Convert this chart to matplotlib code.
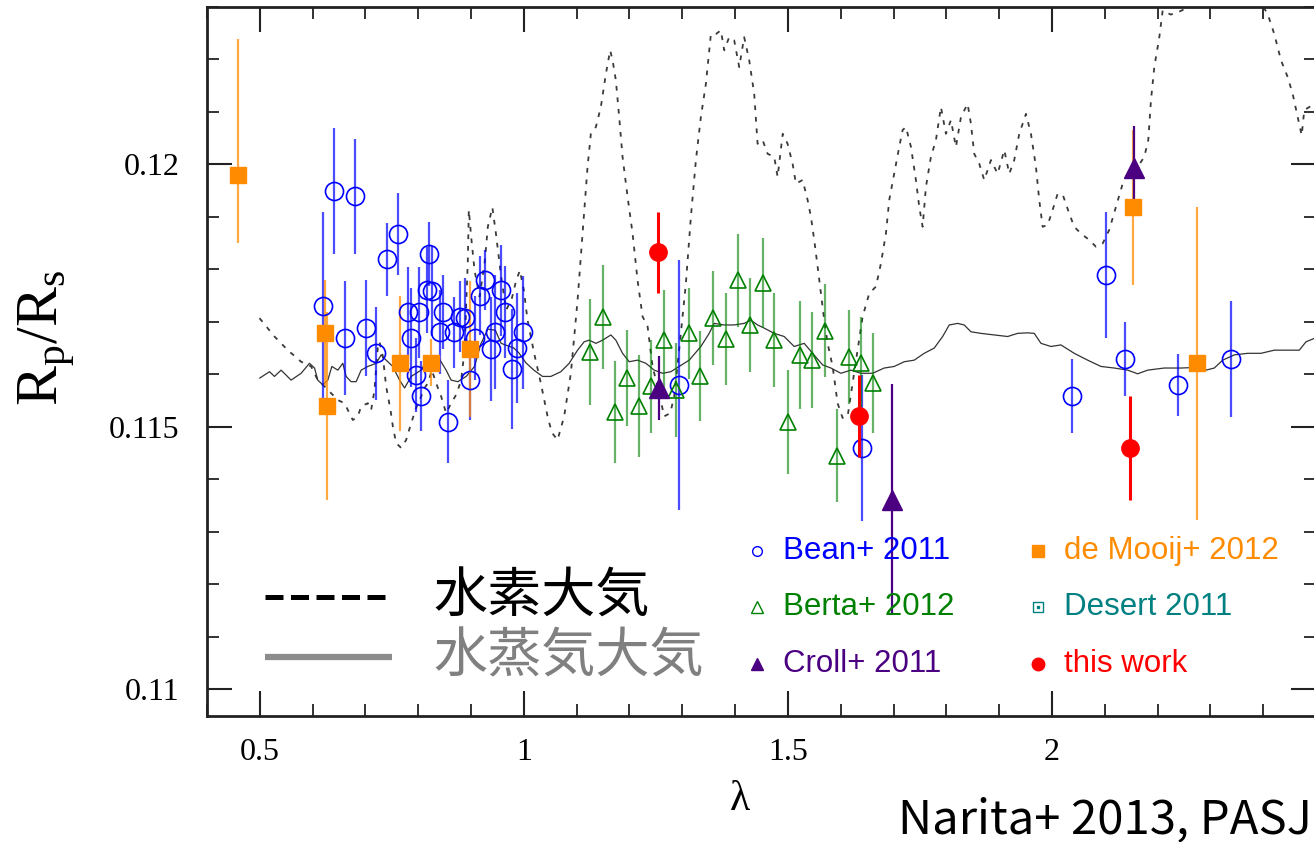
import matplotlib
matplotlib.use("Agg")
import matplotlib.pyplot as plt
from matplotlib.ticker import MultipleLocator, FuncFormatter

plt.rcParams['font.family'] = ['Liberation Serif', 'DejaVu Serif']
plt.rcParams['mathtext.fontset'] = 'custom'
plt.rcParams['mathtext.rm'] = 'Liberation Serif'
plt.rcParams['mathtext.it'] = 'Liberation Serif:italic'

# ── Model spectra ────────────────────────────────────────────────────────────
# hydrogen-dominated atmosphere (dotted)
h2_wl = [0.4994, 0.5278, 0.5530, 0.5782, 0.5972, 0.6098, 0.6225, 0.6350, 0.6477, 0.6604,
         0.6667, 0.6761, 0.6856, 0.6919, 0.7045, 0.7108, 0.7172, 0.7235, 0.7267, 0.7330,
         0.7392, 0.7475, 0.7519, 0.7581, 0.7676, 0.7771, 0.7866, 0.7960, 0.8055, 0.8119,
         0.8182, 0.8258, 0.8339, 0.8434, 0.8528, 0.8623, 0.8718, 0.8813, 0.8877, 0.8907,
         0.8939, 0.8958, 0.9002, 0.9066, 0.9161, 0.9256, 0.9318, 0.9403, 0.9470, 0.9570,
         0.9665, 0.9773, 0.9848, 0.9924, 1.0000, 1.0070, 1.0195, 1.0322, 1.0449, 1.0530,
         1.0638, 1.0763, 1.0890, 1.1017, 1.1112, 1.1206, 1.1269, 1.1364, 1.1458, 1.1553,
         1.1634, 1.1680, 1.1742, 1.1805, 1.1869, 1.1964, 1.2059, 1.2153, 1.2248, 1.2343,
         1.2437, 1.2563, 1.2657, 1.2771, 1.2847, 1.2973, 1.3068, 1.3163, 1.3258, 1.3352,
         1.3447, 1.3542, 1.3636, 1.3731, 1.3794, 1.3888, 1.3983, 1.4078, 1.4172, 1.4267,
         1.4362, 1.4426, 1.4521, 1.4615, 1.4741, 1.4805, 1.4902, 1.4994, 1.5089, 1.5152,
         1.5278, 1.5373, 1.5436, 1.5498, 1.5563, 1.5625, 1.5688, 1.5752, 1.5847, 1.5941,
         1.6036, 1.6131, 1.6225, 1.6320, 1.6415, 1.6540, 1.6667, 1.6761, 1.6856, 1.6919,
         1.7013, 1.7108, 1.7172, 1.7235, 1.7330, 1.7424, 1.7487, 1.7551, 1.7614, 1.7708,
         1.7803, 1.7898, 1.7992, 1.8087, 1.8182, 1.8277, 1.8403, 1.8466, 1.8528, 1.8623,
         1.8718, 1.8845, 1.8972, 1.9097, 1.9192, 1.9286, 1.9381, 1.9508, 1.9602, 1.9697,
         1.9759, 1.9824, 1.9918, 2.0013, 2.0108, 2.0208, 2.0328, 2.0422, 2.0549, 2.0706,
         2.0833, 2.0960, 2.1085, 2.1212, 2.1339, 2.1464, 2.1623, 2.1748, 2.1824, 2.1875,
         2.1938, 2.2033, 2.2097, 2.2150, 2.2250, 2.2400, 2.2500, 2.2800, 2.3300, 2.3800,
         2.4000, 2.4085, 2.4210, 2.4337, 2.4464, 2.4558, 2.4653, 2.4729, 2.4778, 2.4873, 2.4981]
h2_rr = [0.11707, 0.11672, 0.11646, 0.11624, 0.11615, 0.11589, 0.11577, 0.11564, 0.11551, 0.11545,
         0.11532, 0.11513, 0.11520, 0.11539, 0.11545, 0.11532, 0.11570, 0.11653, 0.11662, 0.11634,
         0.11577, 0.11532, 0.11501, 0.11469, 0.11460, 0.11475, 0.11507, 0.11536, 0.11558, 0.11574,
         0.11583, 0.11608, 0.11583, 0.11558, 0.11526, 0.11545, 0.11561, 0.11589, 0.11646, 0.11729,
         0.11817, 0.11913, 0.11862, 0.11798, 0.11748, 0.11811, 0.11881, 0.11918, 0.11869, 0.11786,
         0.11722, 0.11745, 0.11776, 0.11798, 0.11760, 0.11703, 0.11640, 0.11583, 0.11520, 0.11489,
         0.11475, 0.11520, 0.11602, 0.11741, 0.11868, 0.11995, 0.12058, 0.12071, 0.12109, 0.12172,
         0.12217, 0.12198, 0.12160, 0.12090, 0.12014, 0.11938, 0.11868, 0.11779, 0.11710, 0.11691,
         0.11615, 0.11564, 0.11520, 0.11526, 0.11558, 0.11678, 0.11773, 0.11900, 0.12008, 0.12090,
         0.12153, 0.12248, 0.12248, 0.12255, 0.12217, 0.12242, 0.12236, 0.12185, 0.12242, 0.12198,
         0.12134, 0.12039, 0.12046, 0.12020, 0.12014, 0.11976, 0.12058, 0.12039, 0.12001, 0.11963,
         0.11970, 0.11932, 0.11900, 0.11856, 0.11805, 0.11754, 0.11703, 0.11659, 0.11615, 0.11545,
         0.11517, 0.11520, 0.11583, 0.11646, 0.11710, 0.11754, 0.11767, 0.11811, 0.11868, 0.11932,
         0.11982, 0.12033, 0.12065, 0.12071, 0.12033, 0.11970, 0.11919, 0.11881, 0.11957, 0.12014,
         0.12046, 0.12109, 0.12058, 0.12084, 0.12033, 0.12090, 0.12115, 0.12077, 0.12020, 0.12001,
         0.11970, 0.12008, 0.11982, 0.12027, 0.11982, 0.12008, 0.12058, 0.12096, 0.12058, 0.11995,
         0.11932, 0.11881, 0.11884, 0.11913, 0.11944, 0.11941, 0.11906, 0.11881, 0.11868, 0.11856,
         0.11843, 0.11849, 0.11875, 0.11919, 0.11963, 0.11989, 0.11995, 0.12014, 0.12046, 0.12122,
         0.12185, 0.12242, 0.12293, 0.12290, 0.12285, 0.12290, 0.12295, 0.12330, 0.12340, 0.12320,
         0.12300, 0.12286, 0.12248, 0.12198, 0.12166, 0.12134, 0.12090, 0.12055, 0.12103, 0.12109, 0.12115]

# water-vapour atmosphere (solid)
h2o_wl = [0.5000, 0.5184, 0.5278, 0.5403, 0.5593, 0.5782, 0.5941, 0.6036, 0.6098, 0.6193,
          0.6288, 0.6364, 0.6477, 0.6572, 0.6634, 0.6729, 0.6824, 0.6919, 0.7045, 0.7203,
          0.7297, 0.7392, 0.7519, 0.7646, 0.7741, 0.7866, 0.8055, 0.8182, 0.8371, 0.8528,
          0.8623, 0.8750, 0.8907, 0.9066, 0.9186, 0.9318, 0.9459, 0.9570, 0.9811, 0.9905,
          1.0038, 1.0189, 1.0354, 1.0511, 1.0701, 1.0858, 1.1017, 1.1142, 1.1237, 1.1364,
          1.1491, 1.1648, 1.1742, 1.1869, 1.1994, 1.2153, 1.2311, 1.2468, 1.2627, 1.2784,
          1.2941, 1.3131, 1.3352, 1.3509, 1.3604, 1.3794, 1.3983, 1.4172, 1.4299, 1.4426,
          1.4551, 1.4741, 1.4930, 1.5119, 1.5309, 1.5468, 1.5657, 1.5814, 1.6004, 1.6193,
          1.6383, 1.6604, 1.6824, 1.7013, 1.7203, 1.7392, 1.7581, 1.7771, 1.7930, 1.8055,
          1.8214, 1.8339, 1.8466, 1.8655, 1.8907, 1.9161, 1.9350, 1.9540, 1.9665, 1.9792,
          1.9981, 2.0170, 2.0422, 2.0676, 2.0928, 2.1180, 2.1434, 2.1623, 2.1813, 2.2127,
          2.2443, 2.2695, 2.2917, 2.3074, 2.3233, 2.3453, 2.3706, 2.3958, 2.4210, 2.4464,
          2.4684, 2.4811, 2.4981]
h2o_rr = [0.11593, 0.11605, 0.11596, 0.11608, 0.11589, 0.11602, 0.11621, 0.11612, 0.11589, 0.11580,
          0.11589, 0.11615, 0.11608, 0.11621, 0.11596, 0.11586, 0.11586, 0.11608, 0.11615, 0.11621,
          0.11637, 0.11627, 0.11615, 0.11589, 0.11574, 0.11596, 0.11608, 0.11631, 0.11634, 0.11608,
          0.11589, 0.11586, 0.11596, 0.11615, 0.11658, 0.11686, 0.11684, 0.11659, 0.11650, 0.11641,
          0.11622, 0.11608, 0.11596, 0.11596, 0.11605, 0.11621, 0.11646, 0.11662, 0.11665, 0.11659,
          0.11665, 0.11675, 0.11665, 0.11640, 0.11624, 0.11627, 0.11621, 0.11608, 0.11602, 0.11605,
          0.11615, 0.11627, 0.11653, 0.11678, 0.11697, 0.11694, 0.11694, 0.11697, 0.11703, 0.11694,
          0.11688, 0.11678, 0.11672, 0.11653, 0.11659, 0.11640, 0.11618, 0.11612, 0.11602, 0.11608,
          0.11602, 0.11602, 0.11612, 0.11615, 0.11624, 0.11627, 0.11640, 0.11650, 0.11672, 0.11694,
          0.11697, 0.11694, 0.11681, 0.11678, 0.11675, 0.11672, 0.11678, 0.11679, 0.11678, 0.11659,
          0.11653, 0.11656, 0.11640, 0.11627, 0.11615, 0.11612, 0.11608, 0.11601, 0.11608, 0.11612,
          0.11612, 0.11613, 0.11608, 0.11612, 0.11627, 0.11637, 0.11640, 0.11640, 0.11646, 0.11646,
          0.11646, 0.11662, 0.11669]

# ── Observations ─────────────────────────────────────────────────────────────
bean_wl = [0.6206, 0.6396, 0.6604, 0.6799, 0.7002, 0.7203, 0.7405, 0.7608, 0.7803, 0.7854,
           0.7955, 0.8006, 0.8044, 0.8163, 0.8207, 0.8258, 0.8415, 0.8460, 0.8561, 0.8669,
           0.8794, 0.8877, 0.8972, 0.9066, 0.9172, 0.9256, 0.9369, 0.9456, 0.9559, 0.9634,
           0.9767, 0.9862, 0.9975,
           1.2930, 1.6402, 2.0373, 2.1023, 2.1383, 2.2381, 2.3390]
bean_rr = [0.11730, 0.11949, 0.11669, 0.11939, 0.11688, 0.11640, 0.11819, 0.11868, 0.11718, 0.11670,
           0.11599, 0.11718, 0.11559, 0.11760, 0.11829, 0.11759, 0.11680, 0.11719, 0.11510, 0.11680,
           0.11710, 0.11707, 0.11589, 0.11670, 0.11750, 0.11779, 0.11648, 0.11681, 0.11760, 0.11719,
           0.11610, 0.11650, 0.11680,
           0.11580, 0.11460, 0.11559, 0.11789, 0.11629, 0.11579, 0.11629]
bean_err = [0.00179, 0.00120, 0.00109, 0.00110, 0.00091, 0.00089, 0.00070, 0.00078, 0.00087, 0.00095,
            0.00070, 0.00086, 0.00067, 0.00082, 0.00061, 0.00086, 0.00080, 0.00070, 0.00079, 0.00068,
            0.00068, 0.00076, 0.00076, 0.00080, 0.00076, 0.00057, 0.00099, 0.00108, 0.00087, 0.00087,
            0.00114, 0.00105, 0.00108,
            0.00238, 0.00139, 0.00070, 0.00120, 0.00070, 0.00059, 0.00110]

berta_wl = [1.1256, 1.1491, 1.1723, 1.1951, 1.2178, 1.2405, 1.2646, 1.2879, 1.3119, 1.3339,
            1.3585, 1.3820, 1.4047, 1.4286, 1.4521, 1.4741, 1.5006, 1.5222, 1.5455, 1.5695,
            1.5928, 1.6150, 1.6383, 1.6616]
berta_rr = [0.11643, 0.11710, 0.11529, 0.11593, 0.11540, 0.11577, 0.11665, 0.11570, 0.11678, 0.11597,
            0.11707, 0.11667, 0.11779, 0.11694, 0.11774, 0.11665, 0.11510, 0.11637, 0.11627, 0.11683,
            0.11445, 0.11633, 0.11622, 0.11583]
berta_err = [0.00101, 0.00099, 0.00097, 0.00091, 0.00097, 0.00089, 0.00095, 0.00089, 0.00086, 0.00086,
             0.00089, 0.00087, 0.00088, 0.00089, 0.00086, 0.00089, 0.00099, 0.00103, 0.00091, 0.00089,
             0.00089, 0.00089, 0.00087, 0.00095]

croll_wl = [1.2551, 1.6970, 2.1547]
croll_rr = [0.11574, 0.11361, 0.11992]
croll_err = [0.00061, 0.00220, 0.00080]

mooij_wl = [0.4583, 0.6225, 0.6269, 0.7646, 0.8233, 0.8983, 2.1534, 2.2752]
mooij_rr = [0.11979, 0.11679, 0.11540, 0.11621, 0.11622, 0.11648, 0.11918, 0.11621]
mooij_err_lo = [0.00129, 0.00101, 0.00179, 0.00128, 0.00045, 0.00130, 0.00148, 0.00298]
mooij_err_hi = [0.00259, 0.00101, 0.00179, 0.00128, 0.00045, 0.00130, 0.00148, 0.00298]

this_wl = [1.2532, 1.6351, 2.1483]
this_rr = [0.11832, 0.11521, 0.11460]
this_err = [0.00077, 0.00078, 0.00099]

C_BEAN = '#0000ff'
C_BERTA = '#008000'
C_CROLL = '#4b0082'
C_MOOIJ = '#ff8c00'
C_DESERT = '#008080'
C_THIS = '#ff0000'

# ── Figure ───────────────────────────────────────────────────────────────────
W, H = 1314, 842
fig = plt.figure(figsize=(W / 100, H / 100), dpi=100)
ax_l, ax_r, ax_t, ax_b = 207, 1316, 6.7, 715.7
ax = fig.add_axes([ax_l / W, 1 - ax_b / H, (ax_r - ax_l) / W, (ax_b - ax_t) / H])

ax.plot(h2_wl, h2_rr, color='#3a3a3a', lw=1.3, ls=(0, (2.6, 3.8)), zorder=2)
ax.plot(h2o_wl, h2o_rr, color='#333333', lw=0.9, zorder=2)

eb = dict(ls='none', capsize=0, elinewidth=1.6, zorder=3)
ax.errorbar(bean_wl, bean_rr, yerr=bean_err, fmt='o', ms=13, mfc='none',
            mec=C_BEAN, mew=1.2, ecolor=(0, 0, 1, 0.7), **eb)
ax.errorbar(berta_wl, berta_rr, yerr=berta_err, fmt='^', ms=12, mfc='none',
            mec=C_BERTA, mew=1.2, ecolor=(0, 0.5, 0, 0.6), **eb)
ax.errorbar(mooij_wl, mooij_rr, yerr=[mooij_err_lo, mooij_err_hi], fmt='s', ms=11.5,
            mfc=C_MOOIJ, mec=C_MOOIJ, ecolor=(1, 0.55, 0, 0.75), **eb)
ax.errorbar(croll_wl, croll_rr, yerr=croll_err, fmt='^', ms=14, mfc=C_CROLL,
            mec=C_CROLL, ecolor=C_CROLL, **eb)
ax.errorbar(this_wl, this_rr, yerr=this_err, fmt='o', ms=12.5, mfc=C_THIS,
            mec=C_THIS, ecolor=C_THIS, elinewidth=2.2, ls='none', capsize=0, zorder=4)

ax.set_xlim(0.4, 2.5)
ax.set_ylim(0.1095, 0.123)
ax.xaxis.set_major_locator(MultipleLocator(0.5))
ax.xaxis.set_minor_locator(MultipleLocator(0.1))
ax.yaxis.set_major_locator(MultipleLocator(0.005))
ax.yaxis.set_minor_locator(MultipleLocator(0.001))
ax.xaxis.set_major_formatter(FuncFormatter(lambda v, p: '' if v > 2.45 else f'{round(v, 3):g}'))
ax.yaxis.set_major_formatter(FuncFormatter(lambda v, p: f'{round(v, 4):g}'))
ax.tick_params(which='both', direction='in', top=True, right=True, colors='#222222')
ax.tick_params(which='major', length=18, width=1.5, labelsize=23, labelcolor='black')
ax.tick_params(axis='x', which='major', pad=16)
ax.tick_params(axis='y', which='major', pad=20)
ax.tick_params(which='minor', length=8.5, width=1.3)
for side in ['left', 'bottom', 'top', 'right']:
    ax.spines[side].set_linewidth(2.0)
    ax.spines[side].set_color('#222222')

fig.text(47 / W, 1 - 338 / H, r'$\mathrm{R_p/R_s}$', rotation=90,
         ha='center', va='center', fontsize=43)
fig.text(740 / W, 1 - 800 / H, 'λ', ha='center', va='center', fontsize=30)
fig.text(1312 / W, 9 / H, 'Narita+ 2013, PASJ', ha='right', va='baseline',
         fontsize=34, family=['Noto Sans CJK JP', 'DejaVu Sans'])

# ── Model legend (left) ──────────────────────────────────────────────────────
def afx(px):
    return (px - ax_l) / (ax_r - ax_l)


def afy(py):
    return (ax_b - py) / (ax_b - ax_t)


cjk = ['Noto Sans CJK JP', 'DejaVu Sans']
ax.plot([afx(265), afx(392)], [afy(597), afy(597)], transform=ax.transAxes,
        color='black', lw=3.6, ls=(0, (3.6, 1.5)), solid_capstyle='butt', clip_on=False)
ax.text(afx(433), afy(597), '水素大気', transform=ax.transAxes, ha='left',
        va='center', fontsize=39, family=cjk, color='black')
ax.plot([afx(265), afx(392)], [afy(657), afy(657)], transform=ax.transAxes,
        color='#8c8c8c', lw=4.5, solid_capstyle='butt', clip_on=False)
ax.text(afx(433), afy(657), '水蒸気大気', transform=ax.transAxes, ha='left',
        va='center', fontsize=39, family=cjk, color='#808080')

# ── Data legend (right) ──────────────────────────────────────────────────────
entries = [
    (757, 551, 'Bean+ 2011', C_BEAN, dict(marker='o', ms=7, mfc='none', mec=C_BEAN, mew=1.0)),
    (757, 607, 'Berta+ 2012', C_BERTA, dict(marker='^', ms=8, mfc='none', mec=C_BERTA, mew=1.0)),
    (757, 664, 'Croll+ 2011', C_CROLL, dict(marker='^', ms=9, mfc=C_CROLL, mec=C_CROLL)),
    (1038, 551, 'de Mooij+ 2012', C_MOOIJ, dict(marker='s', ms=8.5, mfc=C_MOOIJ, mec=C_MOOIJ)),
    (1038, 607, 'Desert 2011', C_DESERT, dict(marker='s', ms=7.5, mfc='none', mec=C_DESERT, mew=1.0)),
    (1038, 664, 'this work', C_THIS, dict(marker='o', ms=9, mfc=C_THIS, mec=C_THIS)),
]
for mx, my, label, color, mk in entries:
    ax.plot([afx(mx)], [afy(my)], transform=ax.transAxes, ls='none', clip_on=False, **mk)
    ax.text(afx(mx + 26), afy(my), label, transform=ax.transAxes, ha='left', va='center',
            fontsize=22.5, color=color, family=['Liberation Sans', 'DejaVu Sans'])
# dot inside the Desert marker
ax.plot([afx(1038)], [afy(607)], transform=ax.transAxes, marker='s', ms=1.6,
        color=C_DESERT, ls='none', clip_on=False)

fig.savefig('out.png', dpi=100)
